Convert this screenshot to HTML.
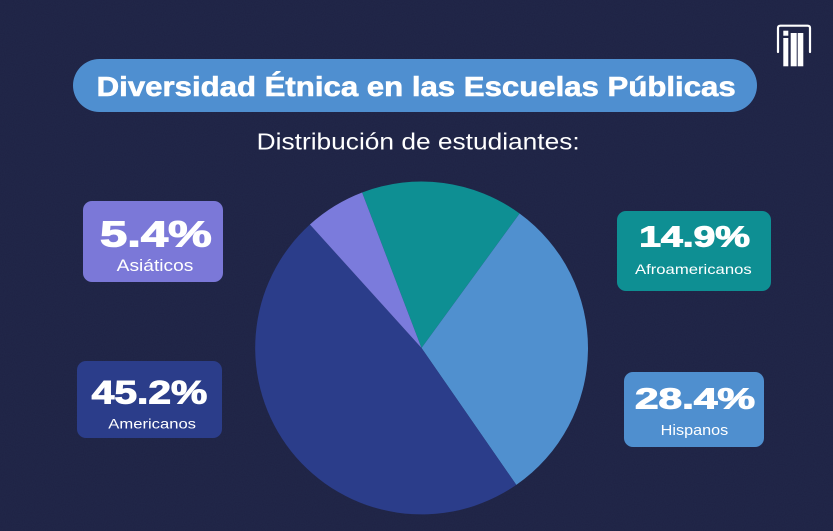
<!DOCTYPE html>
<html>
<head>
<meta charset="utf-8">
<style>
html,body{margin:0;padding:0;background:#1f2447;}
body{width:833px;height:531px;overflow:hidden;}
svg{display:block;}
</style>
</head>
<body>
<svg width="833" height="531" viewBox="0 0 833 531" xmlns="http://www.w3.org/2000/svg">
  <defs>
    <filter id="noise" x="0" y="0" width="100%" height="100%">
      <feTurbulence type="fractalNoise" baseFrequency="0.9" numOctaves="2" seed="3" result="n"/>
      <feColorMatrix type="matrix" values="0 0 0 0 0.5  0 0 0 0 0.55  0 0 0 0 0.75  0 0 0 0.12 0" />
    </filter>
  </defs>
  <rect x="0" y="0" width="833" height="531" fill="#1e2345"/>
  <rect x="0" y="0" width="833" height="531" filter="url(#noise)" opacity="0.25"/>

  <!-- logo -->
  <g fill="none" stroke="#ffffff" stroke-width="2.2" stroke-linecap="round">
    <path d="M778,52 L778,28 Q778,25.7 780.5,25.7 L807.5,25.7 Q810,25.7 810,28 L810,52"/>
  </g>
  <g fill="#ffffff">
    <rect x="783.3" y="30.7" width="5" height="5"/>
    <rect x="783.3" y="38" width="5" height="28.3"/>
    <rect x="790.7" y="33" width="6" height="33.3"/>
    <rect x="797.7" y="33" width="5.6" height="33.3"/>
  </g>

  <!-- title pill -->
  <rect x="73" y="59" width="684" height="53" rx="26.5" fill="#4f8fd0"/>
  <text x="96.7" y="96" font-family="Liberation Sans, sans-serif" font-weight="bold" font-size="28" fill="#ffffff" stroke="#ffffff" stroke-width="0.6" textLength="639" lengthAdjust="spacingAndGlyphs">Diversidad Étnica en las Escuelas Públicas</text>

  <!-- subtitle -->
  <text x="256.7" y="149.3" font-family="Liberation Sans, sans-serif" font-size="23" fill="#ffffff" textLength="323" lengthAdjust="spacingAndGlyphs">Distribución de estudiantes:</text>

  <!-- pie -->
  <path d="M421.5,348 L362.1,192.5 A166.5,166.5 0 0 1 519.6,213.5 Z" fill="#0e8f93"/>
  <path d="M421.5,348 L519.6,213.5 A166.5,166.5 0 0 1 516.3,484.9 Z" fill="#5090cf"/>
  <path d="M421.5,348 L516.3,484.9 A166.5,166.5 0 0 1 309.9,224.5 Z" fill="#2b3d8a"/>
  <path d="M421.5,348 L309.9,224.5 A166.5,166.5 0 0 1 362.1,192.5 Z" fill="#7b7bdc"/>

  <!-- Asiáticos -->
  <rect x="83" y="201" width="140" height="81" rx="9" fill="#7b78d8"/>
  <text x="100" y="246.7" font-family="Liberation Sans, sans-serif" font-weight="bold" font-size="36" fill="#ffffff" stroke="#ffffff" stroke-width="1.1" textLength="111.7" lengthAdjust="spacingAndGlyphs">5.4%</text>
  <text x="116.7" y="271" font-family="Liberation Sans, sans-serif" font-size="16.5" fill="#ffffff" textLength="76.7" lengthAdjust="spacingAndGlyphs">Asiáticos</text>

  <!-- Americanos -->
  <rect x="77" y="361" width="145" height="77" rx="9" fill="#2b3d8a"/>
  <text x="91.7" y="403.3" font-family="Liberation Sans, sans-serif" font-weight="bold" font-size="32" fill="#ffffff" stroke="#ffffff" stroke-width="1.0" textLength="115.6" lengthAdjust="spacingAndGlyphs">45.2%</text>
  <text x="108.3" y="428.3" font-family="Liberation Sans, sans-serif" font-size="14" fill="#ffffff" textLength="87.7" lengthAdjust="spacingAndGlyphs">Americanos</text>

  <!-- Afroamericanos -->
  <rect x="617" y="211" width="154" height="80" rx="9" fill="#0e8f93"/>
  <text x="639.3" y="246.7" font-family="Liberation Sans, sans-serif" font-weight="bold" font-size="28.5" fill="#ffffff" stroke="#ffffff" stroke-width="1.0" textLength="110.7" lengthAdjust="spacingAndGlyphs">14.9%</text>
  <text x="635" y="274" font-family="Liberation Sans, sans-serif" font-size="14" fill="#ffffff" textLength="116.7" lengthAdjust="spacingAndGlyphs">Afroamericanos</text>

  <!-- Hispanos -->
  <rect x="624" y="372" width="140" height="75" rx="9" fill="#4f8fcf"/>
  <text x="635" y="408.3" font-family="Liberation Sans, sans-serif" font-weight="bold" font-size="29" fill="#ffffff" stroke="#ffffff" stroke-width="1.0" textLength="120" lengthAdjust="spacingAndGlyphs">28.4%</text>
  <text x="660.7" y="435" font-family="Liberation Sans, sans-serif" font-size="14.5" fill="#ffffff" textLength="67.6" lengthAdjust="spacingAndGlyphs">Hispanos</text>
</svg>
</body>
</html>
